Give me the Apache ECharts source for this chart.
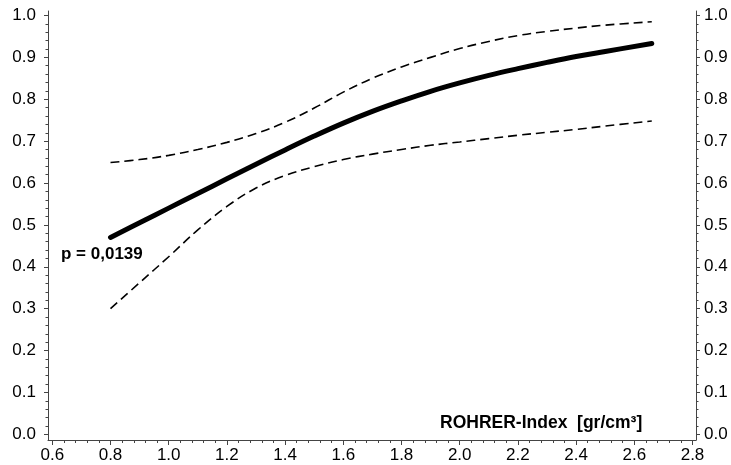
<!DOCTYPE html>
<html>
<head>
<meta charset="utf-8">
<script src="https://cdn.jsdelivr.net/npm/echarts@6/dist/echarts.min.js"></script>
<style>
html,body{margin:0;padding:0;background:#fff;}
#chart{width:731px;height:465px;}
</style>
</head>
<body>
<div id="chart"></div>
<script>
// ---- data ----
const xValues   = [0.8, 0.9, 1.0, 1.1, 1.2, 1.3, 1.4, 1.5, 1.6, 1.7, 1.8, 1.9, 2.0, 2.1, 2.2, 2.3, 2.4, 2.5, 2.66];
const estimate  = [0.470, 0.505, 0.540, 0.575, 0.610, 0.645, 0.679, 0.712, 0.743, 0.771, 0.796, 0.819, 0.839, 0.857, 0.873, 0.888, 0.902, 0.914, 0.933];
const upperCI   = [0.649, 0.656, 0.666, 0.680, 0.697, 0.718, 0.745, 0.779, 0.817, 0.850, 0.877, 0.900, 0.921, 0.938, 0.952, 0.962, 0.970, 0.977, 0.985];
const lowerCI   = [0.300, 0.362, 0.424, 0.488, 0.544, 0.588, 0.618, 0.639, 0.656, 0.669, 0.680, 0.690, 0.698, 0.706, 0.714, 0.721, 0.728, 0.736, 0.748];
const xTicks    = [0.6, 0.8, 1.0, 1.2, 1.4, 1.6, 1.8, 2.0, 2.2, 2.4, 2.6, 2.8];
const yTicks    = [0.0, 0.1, 0.2, 0.3, 0.4, 0.5, 0.6, 0.7, 0.8, 0.9, 1.0];
const pText     = 'p = 0,0139';
const xTitle    = 'ROHRER-Index  [gr/cm³]';

// minor ticks: 4 subdivisions between major ticks (axis decoration)
function minors(majors) {
  const out = [];
  for (let i = 0; i < majors.length - 1; i++) {
    const a = majors[i], b = majors[i + 1];
    for (let k = 1; k < 5; k++) out.push(+(a + (b - a) * k / 5).toFixed(4));
  }
  return out;
}
const xMinor = minors(xTicks);
const yMinor = minors(yTicks);

const pairs = (ys) => xValues.map((x, i) => [x, ys[i]]);

const FONT = '"Liberation Sans", Arial, Helvetica, sans-serif';
const AXIS_COLOR = '#444';
const X_MIN = 0.5852, X_MAX = 2.812;
const Y_MIN = -0.0136, Y_MAX = 1.0107;

function xAxisDef(major) {
  return {
    type: 'value', min: X_MIN, max: X_MAX, position: 'bottom', gridIndex: 0,
    splitLine: { show: false },
    axisLine: { show: major, onZero: false, lineStyle: { color: AXIS_COLOR, width: 1 } },
    axisTick: { show: true, inside: false, length: major ? 5 : 3,
      customValues: major ? xTicks : xMinor, lineStyle: { color: AXIS_COLOR, width: 1 } },
    axisLabel: major ? { show: true, customValues: xTicks, margin: 7,
      formatter: v => v.toFixed(1), color: '#000', fontSize: 17, fontFamily: FONT } : { show: false }
  };
}
function yAxisDef(pos, major) {
  return {
    type: 'value', min: Y_MIN, max: Y_MAX, position: pos, gridIndex: 0,
    splitLine: { show: false },
    axisLine: { show: major, onZero: false, lineStyle: { color: AXIS_COLOR, width: 1 } },
    axisTick: { show: true, inside: false, length: major ? 4 : 2.5,
      customValues: major ? yTicks : yMinor, lineStyle: { color: AXIS_COLOR, width: 1 } },
    axisLabel: major ? { show: true, customValues: yTicks, margin: pos === 'left' ? 12 : 8,
      formatter: v => v.toFixed(1), color: '#000', fontSize: 17, fontFamily: FONT } : { show: false }
  };
}

const chart = echarts.init(document.getElementById('chart'), null, { renderer: 'canvas' });
chart.setOption({
  animation: false,
  backgroundColor: '#fff',
  grid: { left: 48, right: 35, top: 11, bottom: 25, containLabel: false },
  title: [
    { text: pText, left: 61, top: 246, padding: 0,
      textStyle: { fontSize: 17, fontWeight: 'bold', color: '#000', fontFamily: FONT } },
    { text: xTitle, left: 440, top: 414, padding: 0,
      textStyle: { fontSize: 17.5, fontWeight: 'bold', color: '#000', fontFamily: FONT } }
  ],
  xAxis: [xAxisDef(true), xAxisDef(false)],
  yAxis: [yAxisDef('left', true), yAxisDef('left', false), yAxisDef('right', true), yAxisDef('right', false)],
  series: [
    { type: 'line', data: pairs(upperCI), showSymbol: false, smooth: 0.4,
      lineStyle: { color: '#000', width: 1.6, type: [9, 5] } },
    { type: 'line', data: pairs(lowerCI), showSymbol: false, smooth: 0.4,
      lineStyle: { color: '#000', width: 1.6, type: [9, 5] } },
    { type: 'line', data: pairs(estimate), showSymbol: false, smooth: 0.4,
      lineStyle: { color: '#000', width: 5, cap: 'round', join: 'round' } }
  ]
});
</script>
</body>
</html>
